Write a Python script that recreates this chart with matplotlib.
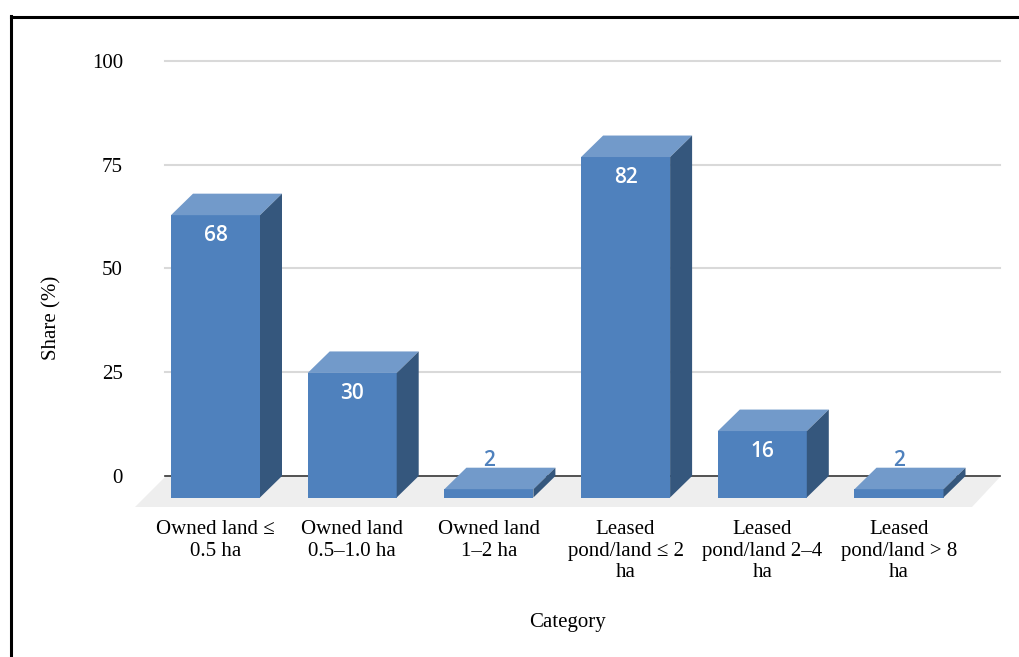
import numpy as np
import matplotlib.pyplot as plt
from matplotlib.patches import Polygon
from matplotlib.lines import Line2D

categories = ["Owned land ≤\n0.5 ha", "Owned land\n0.5–1.0 ha", "Owned land\n1–2 ha",
              "Leased\npond/land ≤ 2\nha", "Leased\npond/land 2–4\nha", "Leased\npond/land > 8\nha"]
values = [68, 30, 2, 82, 16, 2]
yticks = [0, 25, 50, 75, 100]

W, H = 1019, 657
# pixel layout of the plot
cat0_px, cat_step = 215.5, 136.7     # front centre of first bar, spacing
zero_px, unit_px = 476.0, 4.152       # back-plane zero, px per %
ax_l, ax_r, ax_t, ax_b = 130, 1010, 40, 510

front_c = "#4f81bd"
top_c = "#729aca"
side_c = "#35577d"
serif = ["Liberation Serif", "DejaVu Serif"]

fig = plt.figure(figsize=(W / 100, H / 100), dpi=100)
ax = fig.add_axes([ax_l / W, 1 - ax_b / H, (ax_r - ax_l) / W, (ax_b - ax_t) / H])
ax.set_xlim((ax_l - cat0_px) / cat_step, (ax_r - cat0_px) / cat_step)
ax.set_ylim((zero_px - ax_b) / unit_px, (zero_px - ax_t) / unit_px)

def px2x(p):
    return (p - cat0_px) / cat_step

def px2y(p):
    return (zero_px - p) / unit_px

dx = 22 / cat_step
dy = 21.5 / unit_px
bw = 89 / cat_step

# floor
floor = Polygon([(px2x(165), px2y(477)), (px2x(1000), px2y(477)),
                 (px2x(972), px2y(507)), (px2x(135), px2y(507))],
                closed=True, facecolor="#eeeeee", edgecolor="none", zorder=1)
ax.add_patch(floor)

# gridlines
for t in yticks[1:]:
    ax.plot([px2x(165), px2x(1000)], [t, t], color="#d9d9d9", lw=1.5, zorder=1)
ax.plot([px2x(165), px2x(1000)], [0, 0], color="#333333", lw=1.2, zorder=2)

# bars
for i, v in enumerate(values):
    l, r = i - bw / 2, i + bw / 2
    b, t = -dy, v - dy
    ax.add_patch(Polygon([(l, b), (r, b), (r, t), (l, t)], facecolor=front_c, edgecolor="none", zorder=3))
    ax.add_patch(Polygon([(l, t), (r, t), (r + dx, t + dy), (l + dx, t + dy)],
                         facecolor=top_c, edgecolor="none", zorder=3))
    ax.add_patch(Polygon([(r, b), (r + dx, b + dy), (r + dx, t + dy), (r, t)],
                         facecolor=side_c, edgecolor="none", zorder=3))
    if v >= 10:
        ax.text(i, t - 18 / unit_px, str(v), ha="center", va="center_baseline", color="white",
                fontsize=15, family="Open Sans", fontweight="semibold", zorder=4)
    else:
        ax.text(i, v + 10 / unit_px, str(v), ha="center", va="center_baseline", color=front_c,
                fontsize=15, family="Open Sans", fontweight="semibold", zorder=4)

ax.set_yticks(yticks)
ax.set_yticklabels([str(t) for t in yticks], family=serif, fontsize=15)
ax.set_xticks(range(len(categories)))
ax.set_xticklabels(categories, family=serif, fontsize=15, linespacing=1.2)
ax.tick_params(axis="both", length=0)
ax.tick_params(axis="y", pad=5)
ax.tick_params(axis="x", pad=7)
for s in ax.spines.values():
    s.set_visible(False)
ax.patch.set_alpha(0)

fig.text(52 / W, 1 - 318 / H, "Share (%)", rotation=90, ha="center", va="center",
         family=serif, fontsize=15)
fig.text(567 / W, 1 - 623 / H, "Category", ha="center", va="center",
         family=serif, fontsize=15)

# frame around the figure
fig.add_artist(Line2D([11 / W, 11 / W], [0, 1 - 16 / H], color="black", lw=2.2, transform=fig.transFigure))
fig.add_artist(Line2D([11 / W, 1], [1 - 17 / H, 1 - 17 / H], color="black", lw=2.2, transform=fig.transFigure))

fig.savefig("out.png", dpi=100)
